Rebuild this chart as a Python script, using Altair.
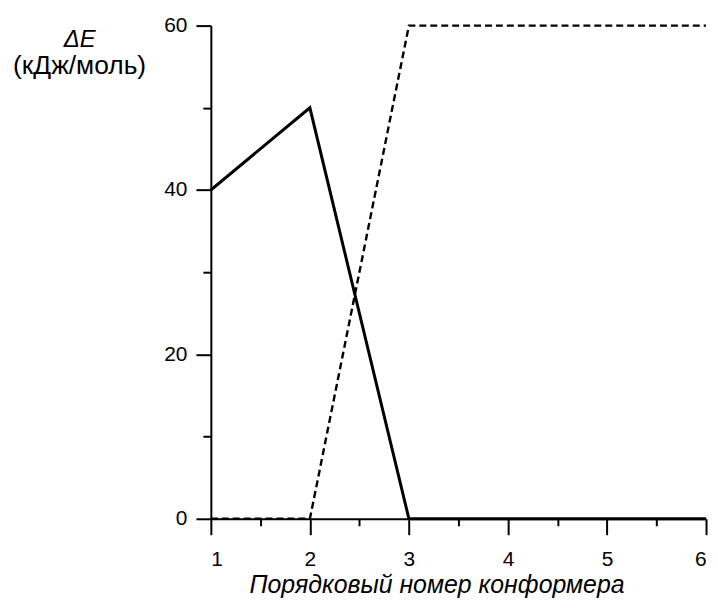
import altair as alt
import pandas as pd

conformer = [1, 2, 3, 4, 5, 6]
solid_e = [40, 50, 0, 0, 0, 0]
dashed_e = [0, 0, 60, 60, 60, 60]
x_major = [1, 2, 3, 4, 5, 6]
x_minor = [1.5, 2.5, 3.5, 4.5, 5.5]
y_major = [0, 20, 40, 60]
y_minor = [10, 30, 50]

df = pd.DataFrame({
    "n": conformer * 2,
    "E": solid_e + dashed_e,
    "s": ["solid"] * 6 + ["dashed"] * 6,
})

FONT = "Liberation Sans"
W, H = 498, 496
LFS = 21
TFS = 25

xs = alt.Scale(domain=[1, 6], nice=False, zero=False)
ys = alt.Scale(domain=[0, 60], nice=False, zero=False)

x_axis = alt.Axis(orient="bottom", values=x_major, format="d", tickSize=16, tickWidth=2,
                  tickColor="black", domainColor="black", domainWidth=2, labelFont=FONT,
                  labelFontSize=LFS, labelColor="black", labelPadding=14, grid=False,
                  title="Порядковый номер конформера", titleFont=FONT, titleFontSize=TFS,
                  titleFontStyle="italic", titleFontWeight="normal", titleColor="black",
                  titleX=227, titleY=66, titleBaseline="middle", titleAlign="center")
y_axis = alt.Axis(orient="left", values=y_major, format="d", tickSize=15, tickWidth=2,
                  tickColor="black", domainColor="black", domainWidth=2, labelFont=FONT,
                  labelFontSize=LFS, labelColor="black", labelPadding=9, grid=False,
                  title=None)

solid = alt.Chart(df).transform_filter("datum.s == 'solid'").mark_line(
    color="black", strokeWidth=3).encode(
    x=alt.X("n:Q", scale=xs, axis=x_axis),
    y=alt.Y("E:Q", scale=ys, axis=y_axis),
)
dashed = alt.Chart(df).transform_filter("datum.s == 'dashed'").mark_line(
    color="black", strokeWidth=2.4, strokeDash=[7, 4]).encode(
    x=alt.X("n:Q", scale=xs, axis=None),
    y=alt.Y("E:Q", scale=ys, axis=None),
)
minor = alt.Chart(df).mark_point(opacity=0).encode(
    x=alt.X("n:Q", scale=xs, axis=alt.Axis(orient="bottom", values=x_minor, tickSize=7,
                                           tickWidth=2, tickColor="black", labels=False,
                                           domain=False, grid=False, title=None)),
    y=alt.Y("E:Q", scale=ys, axis=alt.Axis(orient="left", values=y_minor, tickSize=8,
                                           tickWidth=2, tickColor="black", labels=False,
                                           domain=False, grid=False, title=None)),
)

t1 = alt.Chart(pd.DataFrame({"t": ["ΔE"]})).mark_text(
    font=FONT, fontSize=24, fontStyle="italic", color="black", align="center",
    baseline="middle").encode(text="t:N", x=alt.value(-132), y=alt.value(15))
t2 = alt.Chart(pd.DataFrame({"t": ["(кДж/моль)"]})).mark_text(
    font=FONT, fontSize=26.5, color="black", align="center",
    baseline="middle").encode(text="t:N", x=alt.value(-132), y=alt.value(41))

chart = alt.layer(dashed, solid, minor, t1, t2).resolve_axis(
    x="independent", y="independent"
).properties(
    width=W, height=H,
    padding={"left": 204, "top": 16, "right": 4, "bottom": 84},
    autosize=alt.AutoSizeParams(type="none"),
).configure_view(stroke=None)

chart.save("out.html", embed_options={"renderer": "svg", "actions": False})
